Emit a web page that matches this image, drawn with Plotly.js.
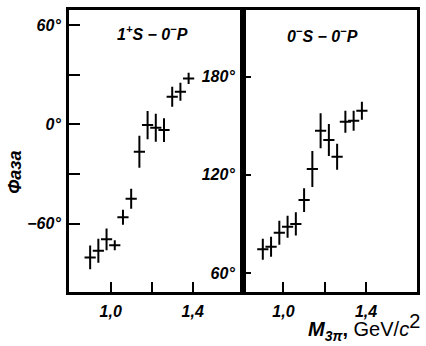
<!DOCTYPE html>
<html>
<head>
<meta charset="utf-8">
<script src="https://cdn.plot.ly/plotly-3.0.1.min.js"></script>
<style>html,body{margin:0;padding:0;background:#fff}#chart{width:426px;height:346px}</style>
</head>
<body>
<div id="chart"></div>
<script>
// Mass bins (GeV/c^2)
const massBins = [0.90, 0.94, 0.98, 1.02, 1.06, 1.10, 1.14, 1.18, 1.22, 1.26, 1.30, 1.34, 1.38];
// Phase 1+S - 0-P (degrees)
const phase1S = [-80.3, -76.3, -69.4, -73.0, -56.1, -44.9, -16.5, -0.4, -2.0, -3.4, 16.7, 19.7, 27.8];
const err1S   = [7.2, 7.2, 6.6, 3.0, 4.5, 6.0, 9.7, 8.5, 8.5, 7.2, 6.0, 5.4, 3.4];
// Phase 0-S - 0-P (degrees)
const phase0S = [74.5, 76.1, 84.6, 88.3, 90.0, 104.6, 123.6, 147.0, 141.3, 131.1, 152.5, 153.1, 159.2];
const err0S   = [6.4, 6.1, 7.3, 6.7, 7.1, 7.3, 11.0, 10.7, 9.8, 7.9, 6.7, 6.1, 5.5];
// Tick labels
const xTickVals = [1.0, 1.2, 1.4];
const xTickText = ["1,0", "", "1,4"];
const y1TickVals = [-60, -30, 0, 30, 60];
const y1TickText = ["\u221260\u00b0", "", "0\u00b0", "", "60\u00b0"];
const y2TickVals = [60, 120, 180];
const y2TickText = ["60\u00b0", "120\u00b0", "180\u00b0"];
const panelLabels = ["1<sup>+</sup>S \u2212 0<sup>\u2212</sup>P", "0<sup>\u2212</sup>S \u2212 0<sup>\u2212</sup>P"];
const yTitle = "\u0424\u0430\u0437\u0430";

const fam = "Liberation Sans, Arial, sans-serif";
const tickFont = {family: fam, size: 16, color: "#000"};
const bi = s => s ? "<b><i>" + s + "</i></b>" : "";

function mkTrace(y, e, xa, ya) {
  return {
    x: massBins, y: y, xaxis: xa, yaxis: ya, type: "scatter", mode: "markers",
    marker: {symbol: "line-ew", size: 8, line: {width: 2, color: "#000"}, color: "#000"},
    error_y: {type: "data", array: e, visible: true, thickness: 2, width: 0, color: "#000"},
    showlegend: false, hoverinfo: "skip"
  };
}

const common = {ticks: "inside", tickwidth: 2, tickcolor: "#000", showline: true, linewidth: 3,
  linecolor: "#000", mirror: true, showgrid: false, zeroline: false, tickfont: tickFont, tickmode: "array"};

const yDom = [0.1575, 0.9711];
const layout = {
  width: 426, height: 346,
  margin: {l: 0, r: 0, t: 0, b: 0},
  paper_bgcolor: "#fff", plot_bgcolor: "#fff",
  showlegend: false,
  xaxis: Object.assign({}, common, {domain: [0.162, 0.5704], range: [0.797, 1.645], anchor: "y",
    tickvals: xTickVals, ticktext: xTickText.map(bi), ticklen: 10, ticklabelstandoff: 3}),
  yaxis: Object.assign({}, common, {domain: yDom, range: [-100.9, 69.1], anchor: "x",
    tickvals: y1TickVals, ticktext: y1TickText.map(bi), ticklen: 11, ticklabelstandoff: 2}),
  xaxis2: Object.assign({}, common, {domain: [0.5704, 0.9789], range: [0.804, 1.647], anchor: "y2",
    tickvals: xTickVals, ticktext: xTickText.map(bi), ticklen: 10, ticklabelstandoff: 3}),
  yaxis2: Object.assign({}, common, {domain: yDom, range: [48.7, 220.8], anchor: "x2",
    tickvals: y2TickVals, ticktext: y2TickText.map(bi), ticklen: 8, ticklabelstandoff: 2}),
  annotations: [
    {text: bi(panelLabels[0]), xref: "paper", yref: "paper", x: 0.359, y: 0.905,
      xanchor: "center", yanchor: "middle", showarrow: false,
      font: {family: fam, size: 16, color: "#000"}},
    {text: bi(panelLabels[1]), xref: "paper", yref: "paper", x: 0.758, y: 0.900,
      xanchor: "center", yanchor: "middle", showarrow: false,
      font: {family: fam, size: 16, color: "#000"}},
    {text: bi(yTitle), xref: "paper", yref: "paper", x: 0.035, y: 0.503, xanchor: "center", yanchor: "middle",
      textangle: -90, showarrow: false,
      font: {family: fam, size: 18, color: "#000"}},
    {text: "<b><i>M</i></b><sub><b><i>3\u03c0</i></b></sub><b>,</b> GeV/<i>c</i><sup><span style='font-size:20px'>2</span></sup>",
      xref: "paper", yref: "paper", x: 0.718, y: 0.0, xanchor: "left", yanchor: "bottom", showarrow: false,
      font: {family: fam, size: 20, color: "#000"}}
  ]
};

Plotly.newPlot("chart", [mkTrace(phase1S, err1S, "x", "y"), mkTrace(phase0S, err0S, "x2", "y2")], layout,
  {staticPlot: true, displayModeBar: false});
</script>
</body>
</html>
